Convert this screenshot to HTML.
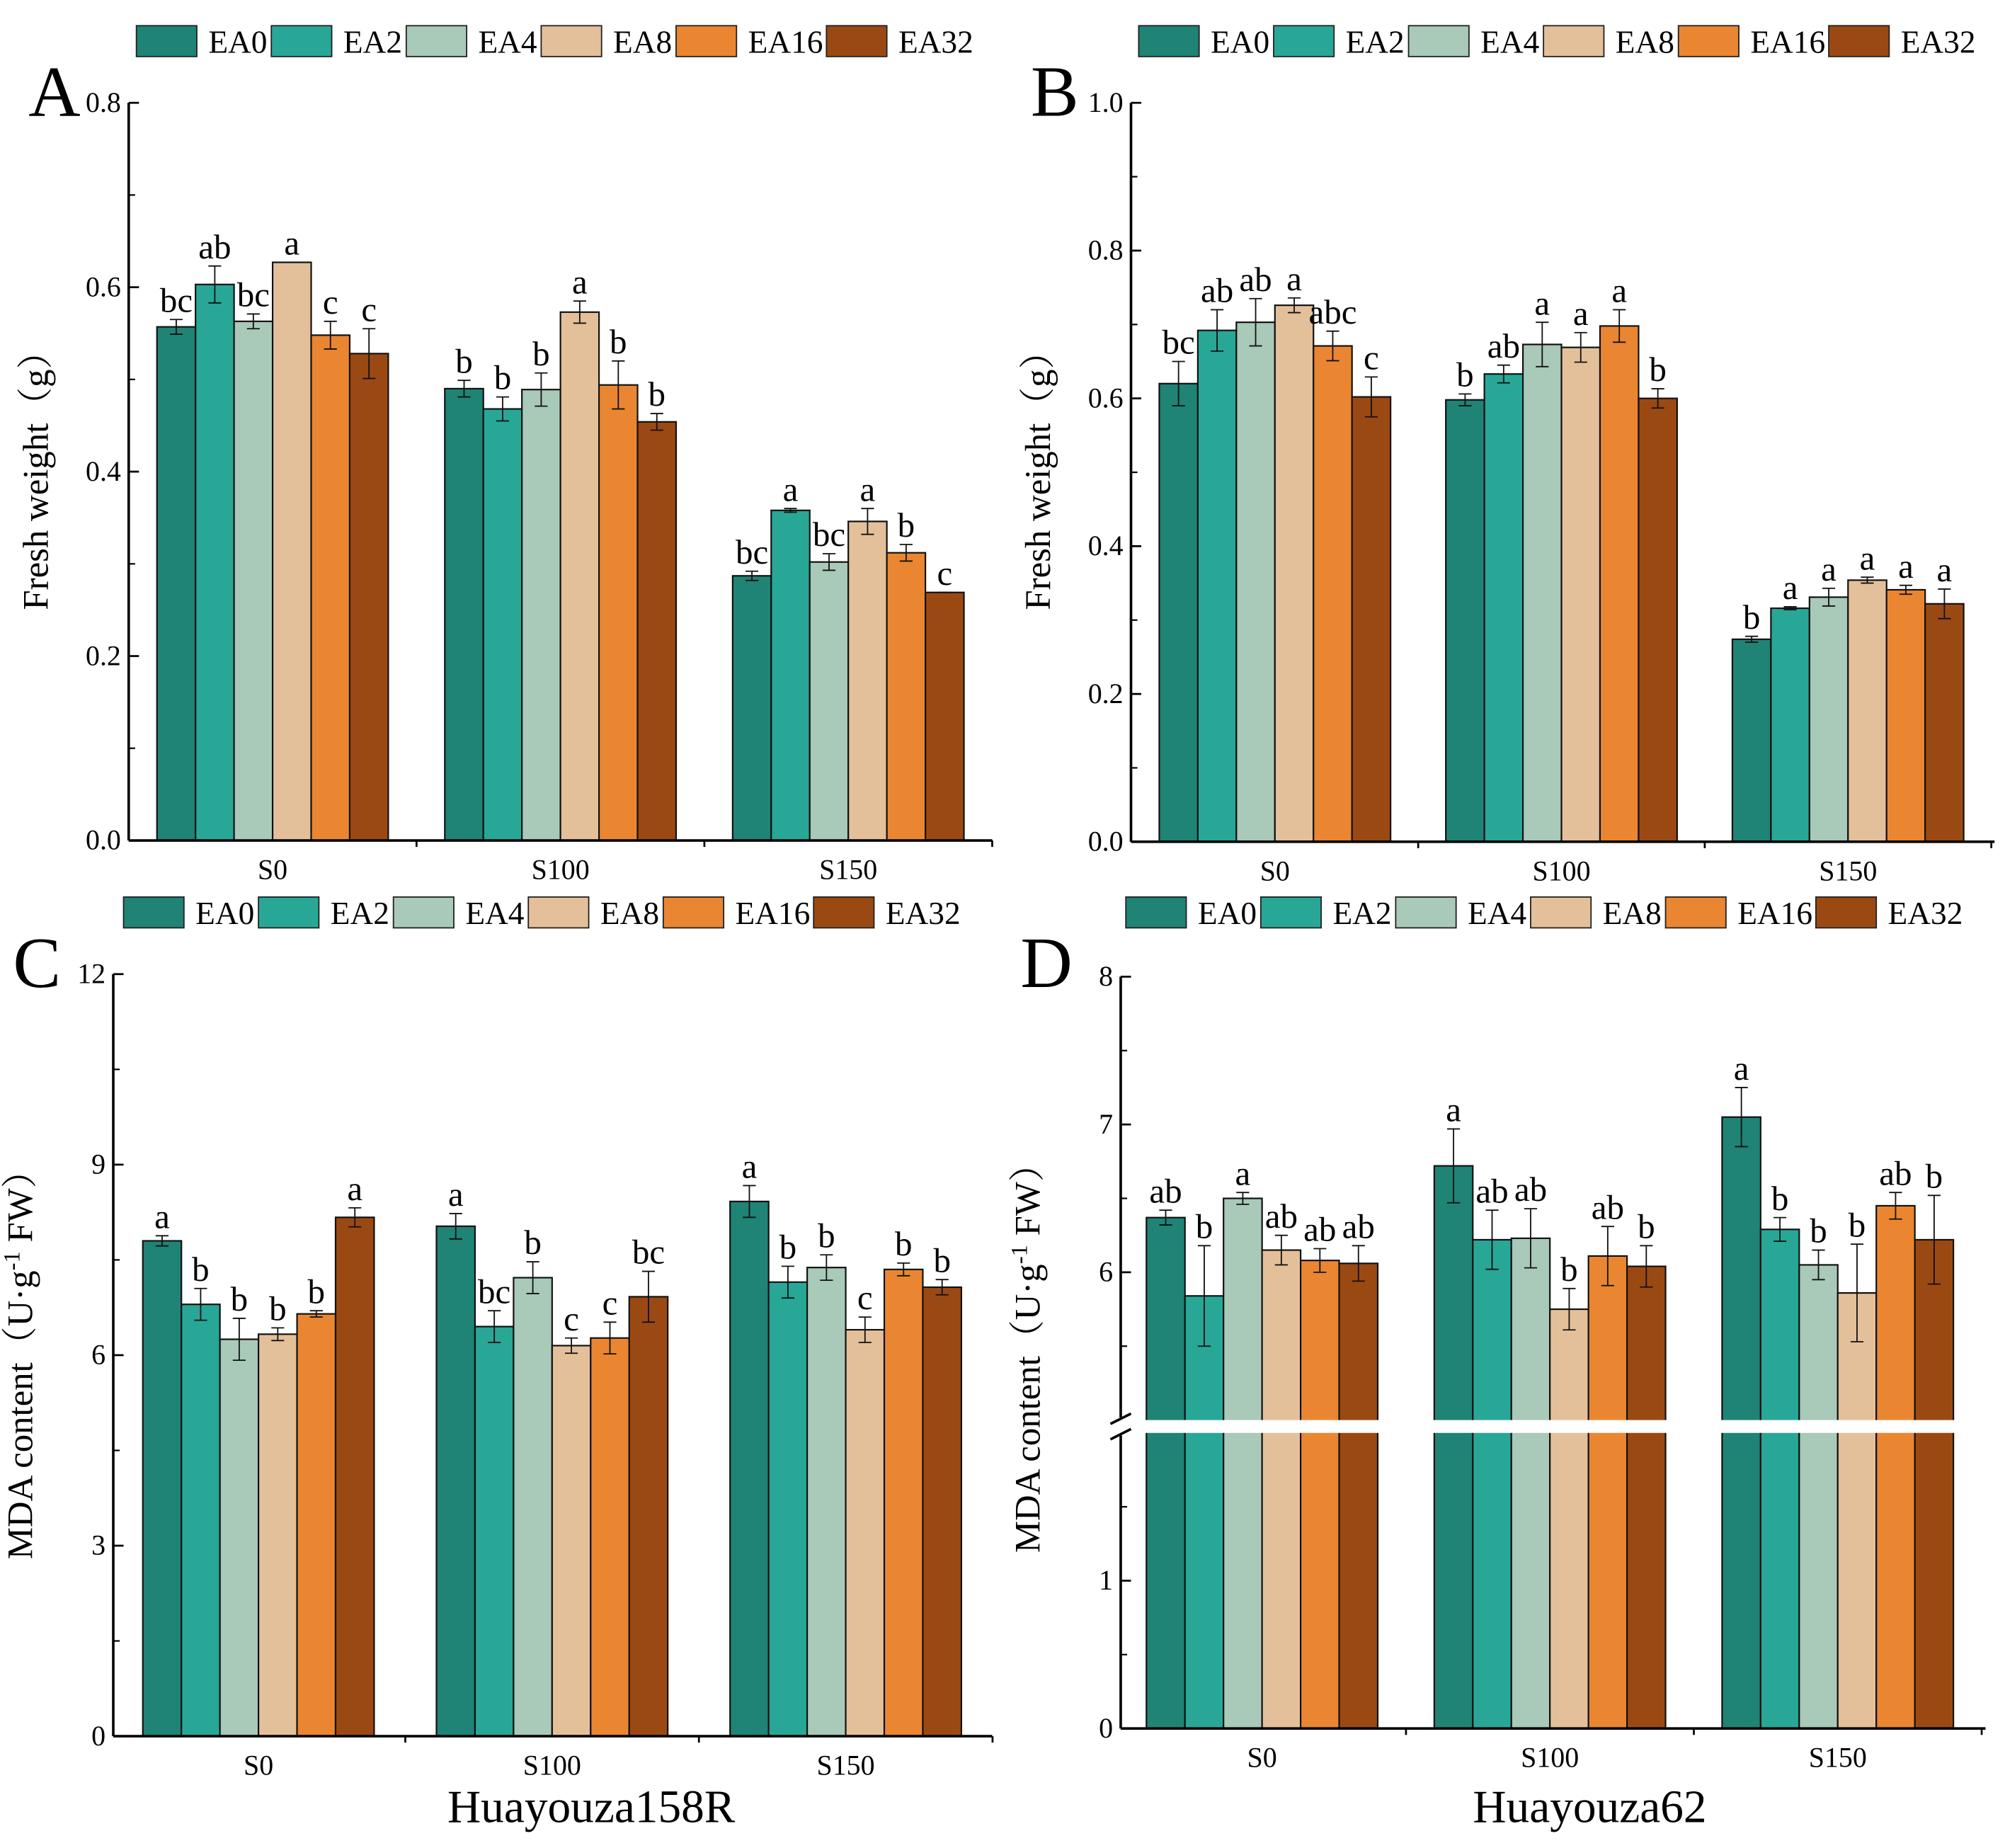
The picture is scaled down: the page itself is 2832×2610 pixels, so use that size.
<!DOCTYPE html>
<html><head><meta charset="utf-8"><style>
html,body{margin:0;padding:0;background:#fff}
svg{display:block}
text{font-family:"Liberation Serif",serif;fill:#000}
</style></head><body>
<svg id="fig" xmlns="http://www.w3.org/2000/svg" width="2832" height="2610" viewBox="0 0 1560 1438"></svg>
<script>
const categories = ["S0","S100","S150"];
const seriesNames = ["EA0","EA2","EA4","EA8","EA16","EA32"];
// Panel A
const aValues = [[0.557,0.603,0.563,0.627,0.548,0.528],[0.490,0.468,0.489,0.573,0.494,0.454],[0.287,0.358,0.302,0.346,0.312,0.269]];
const aErrors = [[0.008,0.02,0.008,0,0.015,0.027],[0.009,0.013,0.018,0.012,0.026,0.009],[0.005,0.002,0.009,0.014,0.009,0]];
const aLetters = [["bc","ab","bc","a","c","c"],["b","b","b","a","b","b"],["bc","a","bc","a","b","c"]];
const aTicks = ["0.0","0.2","0.4","0.6","0.8"];
// Panel B
const bValues = [[0.620,0.692,0.703,0.726,0.671,0.602],[0.598,0.633,0.673,0.669,0.698,0.600],[0.274,0.316,0.331,0.354,0.341,0.322]];
const bErrors = [[0.03,0.028,0.032,0.01,0.02,0.027],[0.008,0.012,0.03,0.02,0.022,0.013],[0.004,0.002,0.012,0.004,0.006,0.02]];
const bLetters = [["bc","ab","ab","a","abc","c"],["b","ab","a","a","a","b"],["b","a","a","a","a","a"]];
const bTicks = ["0.0","0.2","0.4","0.6","0.8","1.0"];
// Panel C
const cValues = [[7.8,6.8,6.25,6.33,6.65,8.17],[8.03,6.45,7.22,6.15,6.27,6.92],[8.42,7.15,7.38,6.40,7.35,7.07]];
const cErrors = [[0.08,0.25,0.33,0.1,0.05,0.15],[0.2,0.25,0.25,0.12,0.25,0.4],[0.25,0.25,0.2,0.2,0.1,0.12]];
const cLetters = [["a","b","b","b","b","a"],["a","bc","b","c","c","bc"],["a","b","b","c","b","b"]];
const cTicks = ["0","3","6","9","12"];
// Panel D
const dValues = [[6.37,5.84,6.50,6.15,6.08,6.06],[6.72,6.22,6.23,5.75,6.11,6.04],[7.05,6.29,6.05,5.86,6.45,6.22]];
const dErrors = [[0.05,0.34,0.04,0.1,0.08,0.12],[0.25,0.2,0.2,0.14,0.2,0.14],[0.2,0.08,0.1,0.33,0.09,0.3]];
const dLetters = [["ab","b","a","ab","ab","ab"],["a","ab","ab","b","ab","b"],["a","b","b","b","ab","b"]];
const dTicks = ["0","1","6","7","8"];

const colors = ["#1f8375","#28a797","#a9c9b9","#e4c09a","#ea8631","#9b4913"];
const NS = "http://www.w3.org/2000/svg";
const svg = document.getElementById("fig");
function mk(tag, attrs, parent, txt){
  const e = document.createElementNS(NS, tag);
  for (const k in attrs) e.setAttribute(k, attrs[k]);
  if (txt !== undefined) e.textContent = txt;
  (parent||svg).appendChild(e);
  return e;
}

function panel(p){
  const g = mk("g", {});
  
  
  seriesNames.forEach((n,i)=>{
    const bx = p.legX + i*105 + (i===5?12:0);
    const r = mk("rect",{x:bx,y:p.legY,width:47,height:24,fill:colors[i],stroke:"#222","stroke-width":1},g);
    
    
    const t = mk("text",{x:bx+56,y:p.legY+21,"font-size":25},g,n);
    
    
  });
  const pl = mk("text",{x:p.axX-78,y:p.legY+70,"font-size":56},g,p.id);
  
  
  const bw = 30, gStep = p.gStep;
  categories.forEach((c,ci)=>{
    const cx = p.c0 + ci*gStep;
    p.values[ci].forEach((v,si)=>{
      const x = cx - 90 + si*bw;
      const y = p.yf(v), y0 = p.yf(p.base);
      const r = mk("rect",{x:x,y:y,width:bw,height:y0-y,fill:colors[si],stroke:"#111","stroke-width":1.2},g);
      
      
      const e = p.errors[ci][si];
      const xm = x + bw/2;
      const yt = p.yf(v+e), yb = p.yf(v-e);
      const eb = mk("path",{d:`M${xm},${yt}V${yb}M${xm-5},${yt}H${xm+5}M${xm-5},${yb}H${xm+5}`,stroke:"#111","stroke-width":1,fill:"none"},g);
      
      
      const lt = mk("text",{x:xm,y:yt-6,"font-size":27,"text-anchor":"middle"},g,p.letters[ci][si]);
      
      
    });
    const cl = mk("text",{x:cx,y:p.xAxY+30,"font-size":22,"text-anchor":"middle"},g,c);
    
    
  });
  if (p.breakFn) p.breakFn(g);
  const ax = mk("path",{d:p.yAxisPath,stroke:"#000","stroke-width":2,fill:"none"},g);
  
  
  const xa = mk("line",{x1:p.axX,y1:p.xAxY,x2:p.axEnd,y2:p.xAxY,stroke:"#000","stroke-width":2},g);
  
  
  for (let k=1;k<=3;k++){
    const tx = p.c0 - gStep/2 + k*gStep;
    mk("line",{x1:tx,y1:p.xAxY,x2:tx,y2:p.xAxY+5,stroke:"#000","stroke-width":1.5},g);
  }
  p.ticks.forEach(t=>{
    const v = parseFloat(t), y = p.yf(v);
    mk("line",{x1:p.axX,y1:y,x2:p.axX+8,y2:y,stroke:"#000","stroke-width":1.5},g);
    const tl = mk("text",{x:p.axX-6,y:y+7,"font-size":22,"text-anchor":"end"},g,t);
    
    
  });
  p.minor.forEach(v=>{
    const y = p.yf(v);
    mk("line",{x1:p.axX,y1:y,x2:p.axX+5,y2:y,stroke:"#000","stroke-width":1.2},g);
  });
  const yt = mk("text",{transform:`translate(${p.axX-63},${p.yTitleY}) rotate(-90)`,"font-size":28,"text-anchor":"middle"},g);
  
  
  yt.innerHTML = p.yTitle;
  if (p.xTitle){
    const xt = mk("text",{x:p.xTitleX,y:1418,"font-size":36,"text-anchor":"middle"},g,p.xTitle);
    
    
  }
}

function lin(v0,y0,v1,y1){ return v=>y0+(v-v0)*(y1-y0)/(v1-v0); }
const fontCJK = 'font-family="Liberation Serif, Noto Serif CJK SC, serif"';

panel({id:"A",legX:106,legY:20,axX:100,axEnd:772,xAxY:654,c0:212,gStep:224,base:0,
  yf:lin(0,654,0.8,80),values:aValues,errors:aErrors,letters:aLetters,ticks:aTicks,
  minor:[0.1,0.3,0.5,0.7],yAxisPath:"M100,80V654",yTitleY:367,
  yTitle:`<tspan ${fontCJK}>Fresh weight（g）</tspan>`});
panel({id:"B",legX:886,legY:20,axX:880,axEnd:1552,xAxY:655,c0:992,gStep:223,base:0,
  yf:lin(0,655,1.0,80),values:bValues,errors:bErrors,letters:bLetters,ticks:bTicks,
  minor:[0.1,0.3,0.5,0.7,0.9],yAxisPath:"M880,80V655",yTitleY:367,
  yTitle:`<tspan ${fontCJK}>Fresh weight（g）</tspan>`});
panel({id:"C",legX:96,legY:698,axX:88,axEnd:772,xAxY:1351,c0:201,gStep:228.5,base:0,
  yf:lin(0,1351,12,758),values:cValues,errors:cErrors,letters:cLetters,ticks:cTicks,
  minor:[1.5,4.5,7.5,10.5],yAxisPath:"M88,758V1351",yTitleY:1055,xTitle:"Huayouza158R",xTitleX:460,
  yTitle:`<tspan ${fontCJK}>MDA content（U·g</tspan><tspan dy="-10" font-size="18">-1</tspan><tspan dy="10" ${fontCJK}> FW）</tspan>`});
const dLow = lin(0,1345,2,1115), dUp = lin(5,1105,8,760);
function dY(v){ return v<=3.5 ? dLow(v) : dUp(v); }
panel({id:"D",legX:876,legY:698,axX:872,axEnd:1545,xAxY:1345,c0:982,gStep:224,base:0,
  yf:dY,values:dValues,errors:dErrors,letters:dLetters,ticks:dTicks,
  minor:[0.5,1.5,5.5,6.5,7.5],yAxisPath:"M872,760V1103M872,1117V1345",yTitleY:1050,xTitle:"Huayouza62",xTitleX:1237,
  yTitle:`<tspan ${fontCJK}>MDA content（U·g</tspan><tspan dy="-10" font-size="18">-1</tspan><tspan dy="10" ${fontCJK}> FW）</tspan>`,
  breakFn:g=>{
    const br = mk("rect",{x:874,y:1105,width:660,height:10,fill:"#fff"},g);
    
    
    const bm = mk("path",{d:"M864,1108L880,1100M864,1120L880,1112",stroke:"#000","stroke-width":2,fill:"none"},g);
    
    
  }});
</script>
</body></html>
